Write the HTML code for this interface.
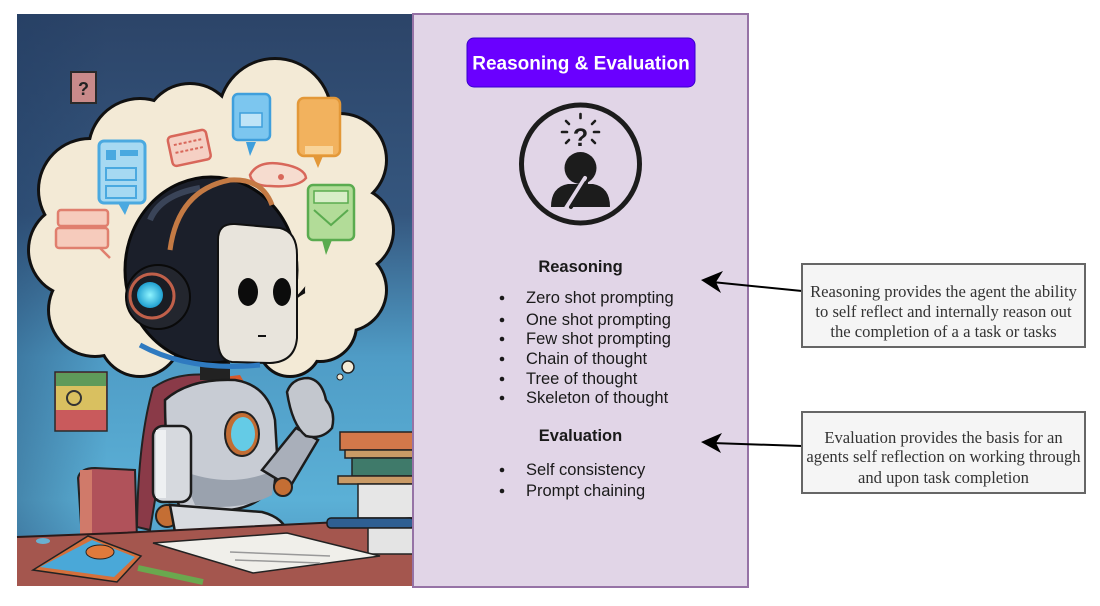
<!DOCTYPE html>
<html><head><meta charset="utf-8"><style>
html,body{margin:0;padding:0;background:#fff;}
body{width:1100px;height:606px;overflow:hidden;}
svg{display:block;}
.s{font-family:"Liberation Sans",Arial,sans-serif;}
.r{font-family:"Liberation Serif","Times New Roman",serif;}
</style></head><body>
<svg width="1100" height="606" viewBox="0 0 1100 606" xmlns="http://www.w3.org/2000/svg">
<defs>
<linearGradient id="bg" x1="0" y1="0" x2="0" y2="1">
<stop offset="0" stop-color="#2c4468"/>
<stop offset="0.35" stop-color="#35577f"/>
<stop offset="0.6" stop-color="#4f9cc6"/>
<stop offset="0.85" stop-color="#5bb0d6"/>
<stop offset="1" stop-color="#4a90bc"/>
</linearGradient>
<linearGradient id="side" x1="0" y1="0" x2="1" y2="0">
<stop offset="0" stop-color="#1e3a60" stop-opacity="0.35"/>
<stop offset="1" stop-color="#1e3a60" stop-opacity="0"/>
</linearGradient>
<radialGradient id="cyan" cx="0.5" cy="0.5" r="0.5">
<stop offset="0" stop-color="#8ff4ff"/><stop offset="1" stop-color="#1f9fd0"/>
</radialGradient>
</defs>

<!-- Illustration -->
<rect x="17" y="14" width="397" height="572" fill="url(#bg)"/>
<rect x="17" y="14" width="90" height="572" fill="url(#side)"/>

<!-- cloud outline -->
<g fill="#111" stroke="#111" stroke-width="6">
<circle cx="275" cy="115" r="55"/><circle cx="190" cy="130" r="45"/><circle cx="140" cy="150" r="50"/>
<circle cx="90" cy="190" r="50"/><circle cx="75" cy="250" r="45"/><circle cx="95" cy="310" r="45"/>
<circle cx="340" cy="160" r="45"/><circle cx="350" cy="230" r="42"/><circle cx="345" cy="290" r="40"/>
<circle cx="320" cy="325" r="35"/><circle cx="215" cy="215" r="115"/><circle cx="140" cy="335" r="40"/>
<circle cx="290" cy="345" r="30"/>
</g>
<g fill="#f3ead6">
<circle cx="275" cy="115" r="55"/><circle cx="190" cy="130" r="45"/><circle cx="140" cy="150" r="50"/>
<circle cx="90" cy="190" r="50"/><circle cx="75" cy="250" r="45"/><circle cx="95" cy="310" r="45"/>
<circle cx="340" cy="160" r="45"/><circle cx="350" cy="230" r="42"/><circle cx="345" cy="290" r="40"/>
<circle cx="320" cy="325" r="35"/><circle cx="215" cy="215" r="115"/><circle cx="140" cy="335" r="40"/>
<circle cx="290" cy="345" r="30"/>
</g>
<circle cx="348" cy="367" r="6" fill="#f3ead6" stroke="#222" stroke-width="1.5"/>
<circle cx="340" cy="377" r="3" fill="#f3ead6" stroke="#222" stroke-width="1"/>

<!-- question tile -->
<rect x="71" y="72" width="25" height="31" fill="#c98a8a" stroke="#2a2a2a" stroke-width="2"/>
<text x="83.5" y="95" text-anchor="middle" class="s" font-size="18" font-weight="bold" fill="#222">?</text>

<!-- cloud icons -->
<rect x="99" y="141" width="46" height="62" rx="5" fill="#a6d9f2" stroke="#4aa9e0" stroke-width="3"/>
<rect x="106" y="150" width="10" height="10" fill="#4aa9e0"/><rect x="120" y="150" width="18" height="6" fill="#4aa9e0"/>
<rect x="106" y="168" width="30" height="12" fill="none" stroke="#4aa9e0" stroke-width="2"/>
<rect x="106" y="186" width="30" height="12" fill="none" stroke="#4aa9e0" stroke-width="2"/>
<polygon points="118,203 130,203 125,215" fill="#4aa9e0"/>
<g transform="rotate(-12 189 149)"><rect x="170" y="133" width="39" height="30" rx="4" fill="#f5d0c4" stroke="#d8675a" stroke-width="2.5"/>
<line x1="175" y1="142" x2="204" y2="142" stroke="#d8675a" stroke-width="2" stroke-dasharray="3 2"/>
<line x1="175" y1="150" x2="204" y2="150" stroke="#d8675a" stroke-width="2" stroke-dasharray="3 2"/></g>
<rect x="233" y="94" width="37" height="46" rx="5" fill="#7cc6ef" stroke="#3f9fdc" stroke-width="2.5"/>
<rect x="240" y="113" width="22" height="14" fill="#bfe4f7" stroke="#3f9fdc" stroke-width="1.5"/>
<polygon points="246,142 256,142 250,156" fill="#3f9fdc"/>
<rect x="298" y="98" width="42" height="58" rx="6" fill="#f2b25e" stroke="#e39838" stroke-width="2.5"/>
<rect x="305" y="146" width="28" height="8" fill="#f8d49a"/>
<polygon points="313,156 323,156 318,168" fill="#e39838"/>
<path d="M250,175 Q258,160 282,164 Q305,168 306,178 Q298,188 270,186 Q252,186 250,175Z" fill="#f6dccf" stroke="#d8675a" stroke-width="2.5"/>
<circle cx="281" cy="177" r="3" fill="#d8675a"/>
<rect x="308" y="185" width="46" height="55" rx="5" fill="#b2dc98" stroke="#5aab4f" stroke-width="2.5"/>
<rect x="314" y="191" width="34" height="12" fill="#d8eec8" stroke="#5aab4f" stroke-width="1.5"/>
<path d="M314,210 L331,225 L348,210" fill="none" stroke="#5aab4f" stroke-width="2"/>
<polygon points="322,240 332,240 326,255" fill="#5aab4f"/>
<rect x="58" y="210" width="50" height="16" rx="3" fill="#f6cbbc" stroke="#e07f6e" stroke-width="2.5"/>
<rect x="56" y="228" width="52" height="20" rx="3" fill="#f6cbbc" stroke="#e07f6e" stroke-width="2.5"/>
<path d="M100,248 L110,258" stroke="#e07f6e" stroke-width="2.5"/>

<!-- chair -->
<path d="M78,478 Q80,468 95,468 L135,470 L137,540 L82,540Z" fill="#b0525a" stroke="#222" stroke-width="2"/>
<rect x="80" y="470" width="12" height="68" fill="#d07a6a"/>

<!-- flag -->
<rect x="55" y="372" width="52" height="59" fill="#c95a5c" stroke="#2a2a2a" stroke-width="1.5"/>
<rect x="56" y="373" width="50" height="13" fill="#5f9a5a"/>
<rect x="56" y="386" width="50" height="24" fill="#d9c060"/>
<circle cx="74" cy="398" r="7" fill="none" stroke="#333" stroke-width="2"/>

<!-- cape -->
<path d="M153,388 Q175,372 210,375 L230,380 L200,400 L160,470 L150,530 L137,527 Q138,440 153,388Z" fill="#8a3a48" stroke="#222" stroke-width="2"/>
<path d="M215,378 L240,375 L250,392 L225,392Z" fill="#d65a2a"/>

<!-- neck -->
<rect x="200" y="355" width="30" height="25" fill="#222"/>

<!-- torso -->
<path d="M165,400 Q190,378 235,380 Q268,385 275,420 L278,470 Q270,505 230,510 L180,508 Q165,470 165,400Z" fill="#c8ccd4" stroke="#1c1c1c" stroke-width="2.5"/>
<path d="M180,470 Q230,490 275,470 L272,495 Q240,512 195,505Z" fill="#9aa2ae"/>
<ellipse cx="242" cy="434" rx="17" ry="22" fill="#c26d34" stroke="#222" stroke-width="2"/>
<ellipse cx="243" cy="434" rx="12" ry="17" fill="#64cbe6"/>

<!-- upper arm (left) -->
<rect x="153" y="426" width="38" height="76" rx="10" fill="#d6d9de" stroke="#1c1c1c" stroke-width="2.5"/>
<rect x="156" y="430" width="10" height="68" fill="#eef0f2"/>
<circle cx="167" cy="516" r="11" fill="#c46e34" stroke="#222" stroke-width="2"/>
<!-- forearm -->
<path d="M170,505 L262,512 Q285,518 288,535 L280,545 L175,532Z" fill="#d8dbe0" stroke="#1c1c1c" stroke-width="2.5"/>
<ellipse cx="270" cy="538" rx="18" ry="12" fill="#c9ccd3" stroke="#1c1c1c" stroke-width="2"/>

<!-- raised arm -->
<path d="M262,470 L296,428 L318,440 L290,487Z" fill="#a9afba" stroke="#1c1c1c" stroke-width="2.5"/>
<circle cx="283" cy="487" r="9" fill="#c46e34" stroke="#222" stroke-width="2"/>
<path d="M287,392 Q292,378 308,378 Q322,380 326,400 Q336,412 332,428 Q322,440 306,436 Q292,425 287,392Z" fill="#c3c7ce" stroke="#1c1c1c" stroke-width="2.5"/>

<!-- head -->
<ellipse cx="211" cy="270" rx="86" ry="93" fill="#1b1f2a" stroke="#0a0a0a" stroke-width="3"/>
<path d="M150,220 Q160,195 200,188" stroke="#3a4458" stroke-width="6" fill="none"/>
<path d="M218,240 Q218,223 235,224 L280,228 Q297,232 297,255 L297,338 Q295,362 270,363 L232,362 Q218,360 218,340Z" fill="#e8e4dc" stroke="#111" stroke-width="2"/>
<path d="M170,250 Q178,190 230,180 Q262,178 272,205" fill="none" stroke="#c47a44" stroke-width="5"/>
<ellipse cx="248" cy="292" rx="10" ry="14" fill="#0c0c0c"/>
<ellipse cx="282" cy="292" rx="9" ry="14" fill="#0c0c0c"/>
<line x1="258" y1="336" x2="266" y2="336" stroke="#111" stroke-width="2"/>
<circle cx="158" cy="297" r="32" fill="#23262e" stroke="#0a0a0a" stroke-width="2"/>
<circle cx="152" cy="296" r="22" fill="#1a1d24" stroke="#c0604a" stroke-width="3"/>
<circle cx="150" cy="295" r="13" fill="url(#cyan)"/>
<path d="M140,345 Q190,372 260,365" stroke="#2f7ac0" stroke-width="5" fill="none"/>

<!-- books -->
<rect x="340" y="432" width="74" height="18" fill="#d3784a" stroke="#222" stroke-width="1.5"/>
<rect x="345" y="450" width="69" height="8" fill="#c99a66" stroke="#222" stroke-width="1.5"/>
<rect x="352" y="458" width="62" height="18" fill="#3f7a6a" stroke="#222" stroke-width="1.5"/>
<rect x="338" y="476" width="76" height="8" fill="#c99a66" stroke="#222" stroke-width="1.5"/>
<rect x="358" y="484" width="56" height="34" fill="#e6e6e6" stroke="#222" stroke-width="1.5"/>

<!-- desk -->
<path d="M17,537 L120,533 L340,522 L414,518 L414,586 L17,586Z" fill="#a4564e"/>
<path d="M17,537 L120,533 L340,522 L414,518" stroke="#2a1a1a" stroke-width="2" fill="none"/>
<rect x="327" y="518" width="87" height="10" rx="4" fill="#2f5f92" stroke="#1a1a1a" stroke-width="1.5"/>
<rect x="368" y="528" width="46" height="26" fill="#e4e4e4" stroke="#222" stroke-width="1.5"/>
<polygon points="153,543 287,533 380,556 253,573" fill="#f0efea" stroke="#222" stroke-width="1.5"/>
<line x1="230" y1="552" x2="330" y2="556" stroke="#999" stroke-width="1.5"/>
<line x1="235" y1="560" x2="320" y2="563" stroke="#999" stroke-width="1.5"/>
<polygon points="88,536 141,556 117,582 33,570" fill="#d4703c" stroke="#222" stroke-width="1.5"/>
<polygon points="92,540 135,557 114,577 40,567" fill="#4aa8d8"/>
<ellipse cx="100" cy="552" rx="14" ry="7" fill="#e07a3c" stroke="#222" stroke-width="1"/>
<line x1="138" y1="568" x2="203" y2="582" stroke="#6aa84e" stroke-width="6"/>
<ellipse cx="43" cy="541" rx="7" ry="3" fill="#6ab0d0"/>

<!-- Purple panel -->
<rect x="413" y="14" width="335" height="573" fill="#e1d5e7" stroke="#9673a6" stroke-width="2"/>

<!-- Title -->
<rect x="467" y="38" width="228" height="49" rx="7" fill="#6a00ff" stroke="#3700cc" stroke-width="1"/>
<text x="581" y="69.5" text-anchor="middle" class="s" font-size="19" font-weight="bold" fill="#ffffff">Reasoning &amp; Evaluation</text>

<!-- Icon -->
<circle cx="580.5" cy="164" r="59" fill="none" stroke="#1c1c1c" stroke-width="5"/>
<text x="580.5" y="146" text-anchor="middle" class="s" font-size="25" font-weight="bold" fill="#1c1c1c">?</text>
<g stroke="#1c1c1c" stroke-width="2.6" stroke-linecap="round">
<line x1="562" y1="132" x2="567" y2="132"/><line x1="594" y1="132" x2="599" y2="132"/>
<line x1="566" y1="121" x2="569" y2="124"/><line x1="595" y1="121" x2="592" y2="124"/>
<line x1="580.5" y1="114" x2="580.5" y2="118"/>
<line x1="566" y1="143" x2="569" y2="140"/><line x1="595" y1="143" x2="592" y2="140"/>
</g>
<circle cx="580.5" cy="168" r="16" fill="#1c1c1c"/>
<path d="M551,207 Q551,187 568,184 L593,184 Q610,187 610,207Z" fill="#1c1c1c"/>
<path d="M566,208 L585,178" stroke="#e1d5e7" stroke-width="4" stroke-linecap="round"/>
<path d="M571,207 L586,183" stroke="#1c1c1c" stroke-width="4" stroke-linecap="round"/>

<!-- Reasoning list -->
<g class="s" fill="#1a1a1a" font-size="16.5">
<text x="580.5" y="272" text-anchor="middle" font-weight="bold">Reasoning</text>
<text x="526" y="303">Zero shot prompting</text>
<text x="526" y="325">One shot prompting</text>
<text x="526" y="344">Few shot prompting</text>
<text x="526" y="364">Chain of thought</text>
<text x="526" y="384">Tree of thought</text>
<text x="526" y="403">Skeleton of thought</text>
<text x="580.5" y="441" text-anchor="middle" font-weight="bold">Evaluation</text>
<text x="526" y="475">Self consistency</text>
<text x="526" y="496">Prompt chaining</text>
</g>
<g fill="#1a1a1a">
<circle cx="502" cy="298" r="2.3"/><circle cx="502" cy="320" r="2.3"/><circle cx="502" cy="339" r="2.3"/>
<circle cx="502" cy="359" r="2.3"/><circle cx="502" cy="379" r="2.3"/><circle cx="502" cy="398" r="2.3"/>
<circle cx="502" cy="470" r="2.3"/><circle cx="502" cy="491" r="2.3"/>
</g>

<!-- Arrows -->
<line x1="802" y1="291" x2="712" y2="282" stroke="#000" stroke-width="2"/>
<polygon points="701,280 723,271 716,282 721,293" fill="#000"/>
<line x1="802" y1="446" x2="712" y2="443" stroke="#000" stroke-width="2"/>
<polygon points="701,442 722,433 716,443 721,453" fill="#000"/>

<!-- Right boxes -->
<rect x="802" y="264" width="283" height="83" fill="#f5f5f5" stroke="#666666" stroke-width="2"/>
<g class="r" font-size="16.6" fill="#333333" text-anchor="middle">
<text x="943.5" y="297">Reasoning provides the agent the ability</text>
<text x="943.5" y="317">to self reflect and internally reason out</text>
<text x="943.5" y="337">the completion of a a task or tasks</text>
</g>
<rect x="802" y="412" width="283" height="81" fill="#f5f5f5" stroke="#666666" stroke-width="2"/>
<g class="r" font-size="16.6" fill="#333333" text-anchor="middle">
<text x="943.5" y="443">Evaluation provides the basis for an</text>
<text x="943.5" y="462">agents self reflection on working through</text>
<text x="943.5" y="483">and upon task completion</text>
</g>
</svg>
</body></html>
